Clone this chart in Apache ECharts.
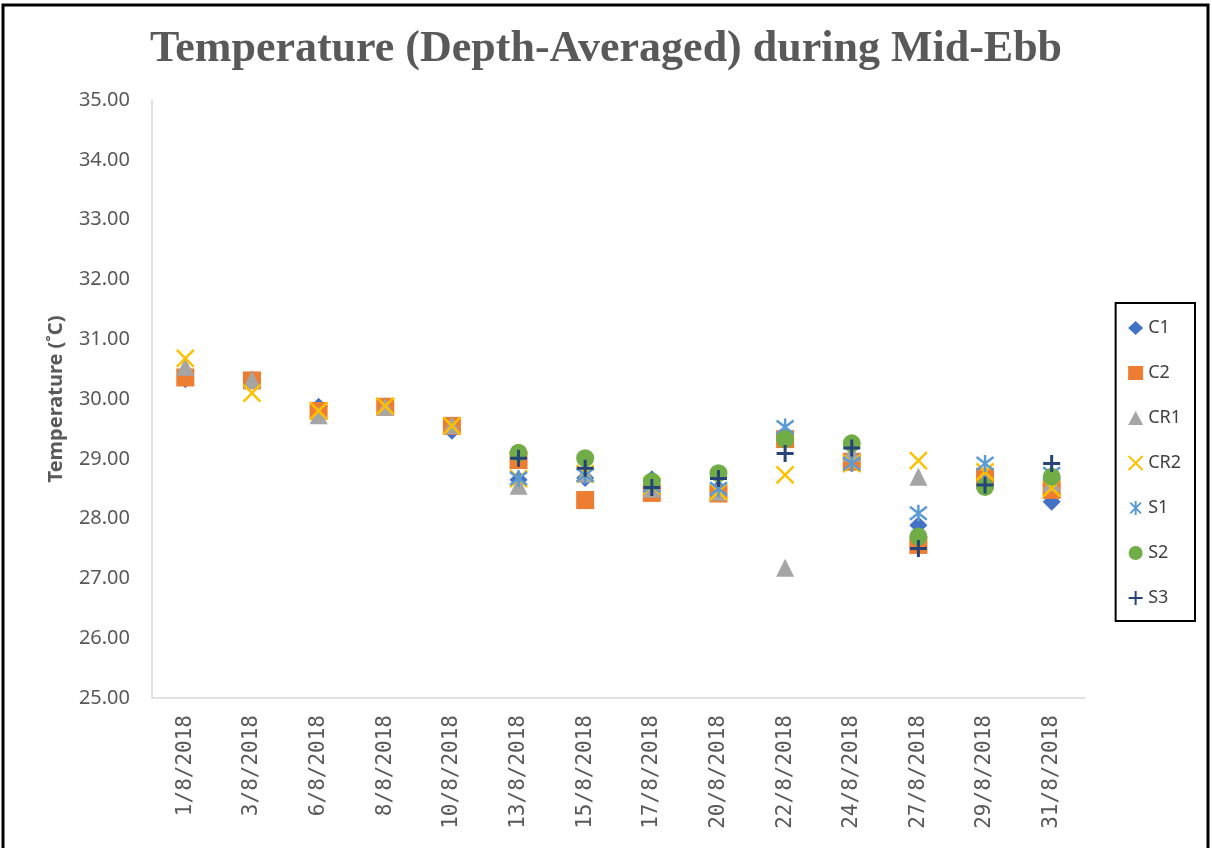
<!DOCTYPE html>
<html>
<head>
<meta charset="utf-8">
<script src="https://cdn.jsdelivr.net/npm/echarts@6/dist/echarts.min.js"></script>
<style>
  html, body { margin: 0; padding: 0; background: #fff; }
  #chart { width: 1212px; height: 848px; }
</style>
</head>
<body>
<div id="chart"></div>
<script>
// sampling dates
const dates = ['1/8/2018', '3/8/2018', '6/8/2018', '8/8/2018', '10/8/2018', '13/8/2018', '15/8/2018',
  '17/8/2018', '20/8/2018', '22/8/2018', '24/8/2018', '27/8/2018', '29/8/2018', '31/8/2018'];

// depth-averaged temperature per station (°C)
const c1 = [30.33, 30.32, 29.87, 29.88, 29.47, 28.65, 28.68, 28.66, 28.50, 29.40, 29.00, 27.89, 28.60, 28.28];
const c2 = [30.36, 30.31, 29.80, 29.87, 29.55, 28.98, 28.31, 28.43, 28.42, 29.33, 28.95, 27.56, 28.70, 28.48];
const cr1 = [30.54, 30.32, 29.73, 29.87, 29.56, 28.55, 28.75, 28.50, 28.45, 27.18, 29.10, 28.70, 28.65, 28.60];
const cr2 = [30.68, 30.10, 29.80, 29.88, 29.55, 28.67, 28.75, 28.55, 28.45, 28.73, 28.92, 28.97, 28.78, 28.51];
const s1 = [null, null, null, null, null, 28.67, 28.73, 28.55, 28.50, 29.53, 28.92, 28.09, 28.92, 28.75];
const s2 = [null, null, null, null, null, 29.10, 29.01, 28.62, 28.76, 29.33, 29.26, 27.70, 28.53, 28.70];
const s3 = [null, null, null, null, null, 29.01, 28.84, 28.52, 28.67, 29.09, 29.18, 27.50, 28.56, 28.92];

const chart = echarts.init(document.getElementById('chart'));

// marker shapes drawn as strokes
const crossPath = 'path://M0,0L10,10M10,0L0,10';
const starPath = 'path://M0,0L10,10M10,0L0,10M5,-1.5L5,11.5';
const plusPath = 'path://M5,0L5,10M0,5L10,5';

function makeSeries(name, data, symbol, color, size, stroke) {
  const s = {
    name: name,
    type: 'scatter',
    data: data,
    symbol: symbol,
    symbolSize: size,
    itemStyle: { color: color, opacity: 1 }
  };
  if (stroke) {
    s.itemStyle.borderColor = color;
    s.itemStyle.borderWidth = stroke;
  }
  return s;
}

const option = {
  animation: false,
  backgroundColor: '#fff',
  title: {
    text: 'Temperature (Depth-Averaged) during Mid-Ebb',
    left: 'center',
    top: 23,
    textStyle: {
      fontFamily: 'Liberation Serif',
      fontWeight: 'bold',
      fontSize: 44,
      color: '#595959'
    }
  },
  graphic: [{
    type: 'rect',
    shape: { x: 3, y: 5, width: 1205, height: 860 },
    style: { fill: 'none', stroke: '#000', lineWidth: 3 },
    silent: true
  }],
  legend: {
    orient: 'vertical',
    right: 17,
    top: 303,
    padding: [16, 14, 14, 12],
    itemGap: 27,
    itemWidth: 15,
    itemHeight: 14,
    borderColor: '#000',
    borderWidth: 2,
    textStyle: { fontFamily: 'Noto Sans', fontSize: 18, color: '#404040' },
    data: ['C1', 'C2', 'CR1', 'CR2', 'S1', 'S2', 'S3']
  },
  grid: {
    left: 152,
    right: 127,
    top: 100,
    bottom: 150
  },
  xAxis: {
    type: 'category',
    data: dates,
    boundaryGap: true,
    axisLine: { lineStyle: { color: '#D9D9D9', width: 1.5 } },
    axisTick: { show: false },
    axisLabel: {
      rotate: 90,
      margin: 17,
      interval: 0,
      fontFamily: 'DejaVu Sans Mono',
      fontSize: 21,
      color: '#595959'
    }
  },
  yAxis: {
    type: 'value',
    min: 25,
    max: 35,
    interval: 1,
    name: 'Temperature (˚C)',
    nameLocation: 'middle',
    nameGap: 86,
    nameTextStyle: { fontFamily: 'Noto Sans', fontWeight: 'bold', fontSize: 20, color: '#595959' },
    axisLine: { show: true, lineStyle: { color: '#D9D9D9', width: 1.5 } },
    axisTick: { show: false },
    splitLine: { show: false },
    axisLabel: {
      margin: 22,
      fontFamily: 'Noto Sans',
      fontSize: 20,
      color: '#595959',
      formatter: (v) => v.toFixed(2)
    }
  },
  series: [
    makeSeries('C1', c1, 'diamond', '#4472C4', 18),
    makeSeries('C2', c2, 'rect', '#ED7D31', 18),
    makeSeries('CR1', cr1, 'triangle', '#A5A5A5', 18),
    makeSeries('CR2', cr2, crossPath, '#FFC000', 17, 2.5),
    makeSeries('S1', s1, starPath, '#5B9BD5', 17, 2.5),
    makeSeries('S2', s2, 'circle', '#70AD47', 18),
    makeSeries('S3', s3, plusPath, '#264478', 17, 3)
  ]
};

chart.setOption(option);
</script>
</body>
</html>
